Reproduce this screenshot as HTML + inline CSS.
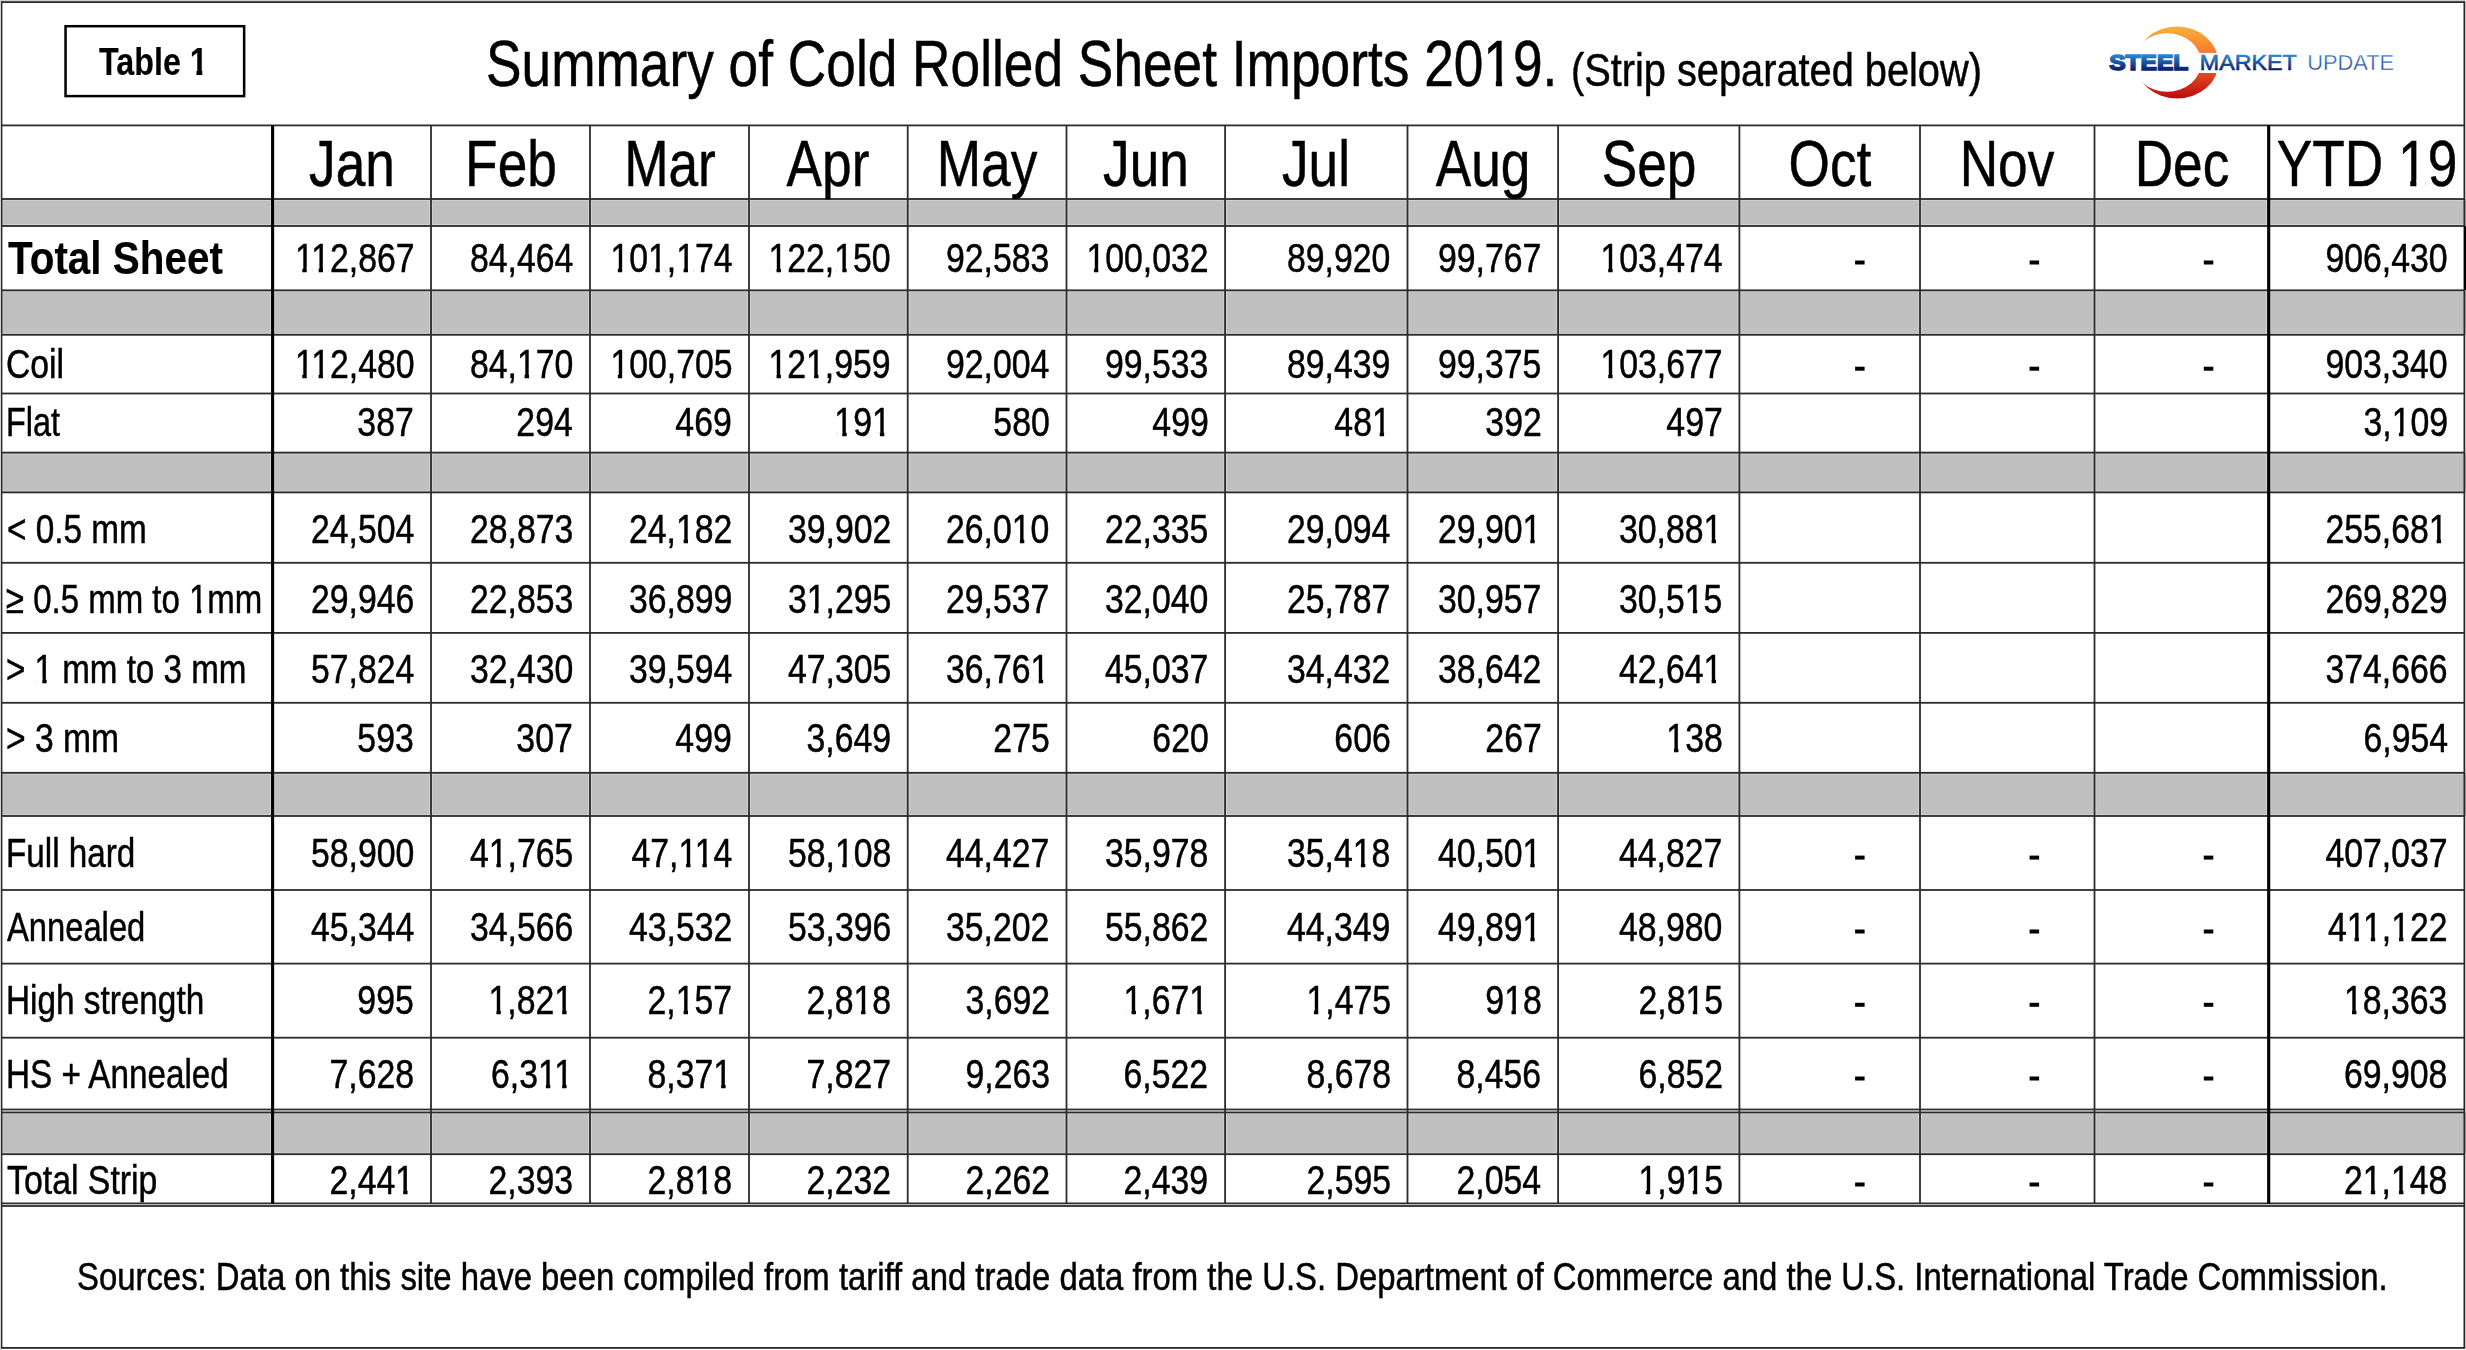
<!DOCTYPE html>
<html><head><meta charset="utf-8"><style>
html,body{margin:0;padding:0;}
body{width:2466px;height:1350px;position:relative;overflow:hidden;background:#fff;font-family:"Liberation Sans", sans-serif;color:#000}
.r{position:absolute}
.t{position:absolute;white-space:nowrap;line-height:1;-webkit-text-stroke:0.5px #000}
</style></head><body>
<svg style="position:absolute;left:0;top:0" width="2466" height="1350"><rect x="0.00" y="199.00" width="2466.00" height="27.00" fill="#c0c0c0"/><rect x="0.00" y="290.30" width="2466.00" height="44.50" fill="#c0c0c0"/><rect x="0.00" y="452.60" width="2466.00" height="39.80" fill="#c0c0c0"/><rect x="0.00" y="772.80" width="2466.00" height="43.20" fill="#c0c0c0"/><rect x="0.00" y="1112.40" width="2466.00" height="41.80" fill="#c0c0c0"/><rect x="0.00" y="199.90" width="2466.00" height="1.00" fill="#d2d2d2"/><rect x="0.00" y="224.10" width="2466.00" height="1.00" fill="#d2d2d2"/><rect x="270.05" y="199.00" width="1.00" height="27.00" fill="#d2d2d2"/><rect x="274.15" y="199.00" width="1.00" height="27.00" fill="#d2d2d2"/><rect x="429.10" y="199.00" width="1.00" height="27.00" fill="#d2d2d2"/><rect x="431.90" y="199.00" width="1.00" height="27.00" fill="#d2d2d2"/><rect x="588.10" y="199.00" width="1.00" height="27.00" fill="#d2d2d2"/><rect x="590.90" y="199.00" width="1.00" height="27.00" fill="#d2d2d2"/><rect x="747.10" y="199.00" width="1.00" height="27.00" fill="#d2d2d2"/><rect x="749.90" y="199.00" width="1.00" height="27.00" fill="#d2d2d2"/><rect x="905.80" y="199.00" width="1.00" height="27.00" fill="#d2d2d2"/><rect x="908.60" y="199.00" width="1.00" height="27.00" fill="#d2d2d2"/><rect x="1064.60" y="199.00" width="1.00" height="27.00" fill="#d2d2d2"/><rect x="1067.40" y="199.00" width="1.00" height="27.00" fill="#d2d2d2"/><rect x="1223.20" y="199.00" width="1.00" height="27.00" fill="#d2d2d2"/><rect x="1226.00" y="199.00" width="1.00" height="27.00" fill="#d2d2d2"/><rect x="1405.60" y="199.00" width="1.00" height="27.00" fill="#d2d2d2"/><rect x="1408.40" y="199.00" width="1.00" height="27.00" fill="#d2d2d2"/><rect x="1556.20" y="199.00" width="1.00" height="27.00" fill="#d2d2d2"/><rect x="1559.00" y="199.00" width="1.00" height="27.00" fill="#d2d2d2"/><rect x="1737.50" y="199.00" width="1.00" height="27.00" fill="#d2d2d2"/><rect x="1740.30" y="199.00" width="1.00" height="27.00" fill="#d2d2d2"/><rect x="1918.10" y="199.00" width="1.00" height="27.00" fill="#d2d2d2"/><rect x="1920.90" y="199.00" width="1.00" height="27.00" fill="#d2d2d2"/><rect x="2092.60" y="199.00" width="1.00" height="27.00" fill="#d2d2d2"/><rect x="2095.40" y="199.00" width="1.00" height="27.00" fill="#d2d2d2"/><rect x="2266.15" y="199.00" width="1.00" height="27.00" fill="#d2d2d2"/><rect x="2270.25" y="199.00" width="1.00" height="27.00" fill="#d2d2d2"/><rect x="0.00" y="291.20" width="2466.00" height="1.00" fill="#d2d2d2"/><rect x="0.00" y="332.90" width="2466.00" height="1.00" fill="#d2d2d2"/><rect x="270.05" y="290.30" width="1.00" height="44.50" fill="#d2d2d2"/><rect x="274.15" y="290.30" width="1.00" height="44.50" fill="#d2d2d2"/><rect x="429.10" y="290.30" width="1.00" height="44.50" fill="#d2d2d2"/><rect x="431.90" y="290.30" width="1.00" height="44.50" fill="#d2d2d2"/><rect x="588.10" y="290.30" width="1.00" height="44.50" fill="#d2d2d2"/><rect x="590.90" y="290.30" width="1.00" height="44.50" fill="#d2d2d2"/><rect x="747.10" y="290.30" width="1.00" height="44.50" fill="#d2d2d2"/><rect x="749.90" y="290.30" width="1.00" height="44.50" fill="#d2d2d2"/><rect x="905.80" y="290.30" width="1.00" height="44.50" fill="#d2d2d2"/><rect x="908.60" y="290.30" width="1.00" height="44.50" fill="#d2d2d2"/><rect x="1064.60" y="290.30" width="1.00" height="44.50" fill="#d2d2d2"/><rect x="1067.40" y="290.30" width="1.00" height="44.50" fill="#d2d2d2"/><rect x="1223.20" y="290.30" width="1.00" height="44.50" fill="#d2d2d2"/><rect x="1226.00" y="290.30" width="1.00" height="44.50" fill="#d2d2d2"/><rect x="1405.60" y="290.30" width="1.00" height="44.50" fill="#d2d2d2"/><rect x="1408.40" y="290.30" width="1.00" height="44.50" fill="#d2d2d2"/><rect x="1556.20" y="290.30" width="1.00" height="44.50" fill="#d2d2d2"/><rect x="1559.00" y="290.30" width="1.00" height="44.50" fill="#d2d2d2"/><rect x="1737.50" y="290.30" width="1.00" height="44.50" fill="#d2d2d2"/><rect x="1740.30" y="290.30" width="1.00" height="44.50" fill="#d2d2d2"/><rect x="1918.10" y="290.30" width="1.00" height="44.50" fill="#d2d2d2"/><rect x="1920.90" y="290.30" width="1.00" height="44.50" fill="#d2d2d2"/><rect x="2092.60" y="290.30" width="1.00" height="44.50" fill="#d2d2d2"/><rect x="2095.40" y="290.30" width="1.00" height="44.50" fill="#d2d2d2"/><rect x="2266.15" y="290.30" width="1.00" height="44.50" fill="#d2d2d2"/><rect x="2270.25" y="290.30" width="1.00" height="44.50" fill="#d2d2d2"/><rect x="0.00" y="453.50" width="2466.00" height="1.00" fill="#d2d2d2"/><rect x="0.00" y="490.50" width="2466.00" height="1.00" fill="#d2d2d2"/><rect x="270.05" y="452.60" width="1.00" height="39.80" fill="#d2d2d2"/><rect x="274.15" y="452.60" width="1.00" height="39.80" fill="#d2d2d2"/><rect x="429.10" y="452.60" width="1.00" height="39.80" fill="#d2d2d2"/><rect x="431.90" y="452.60" width="1.00" height="39.80" fill="#d2d2d2"/><rect x="588.10" y="452.60" width="1.00" height="39.80" fill="#d2d2d2"/><rect x="590.90" y="452.60" width="1.00" height="39.80" fill="#d2d2d2"/><rect x="747.10" y="452.60" width="1.00" height="39.80" fill="#d2d2d2"/><rect x="749.90" y="452.60" width="1.00" height="39.80" fill="#d2d2d2"/><rect x="905.80" y="452.60" width="1.00" height="39.80" fill="#d2d2d2"/><rect x="908.60" y="452.60" width="1.00" height="39.80" fill="#d2d2d2"/><rect x="1064.60" y="452.60" width="1.00" height="39.80" fill="#d2d2d2"/><rect x="1067.40" y="452.60" width="1.00" height="39.80" fill="#d2d2d2"/><rect x="1223.20" y="452.60" width="1.00" height="39.80" fill="#d2d2d2"/><rect x="1226.00" y="452.60" width="1.00" height="39.80" fill="#d2d2d2"/><rect x="1405.60" y="452.60" width="1.00" height="39.80" fill="#d2d2d2"/><rect x="1408.40" y="452.60" width="1.00" height="39.80" fill="#d2d2d2"/><rect x="1556.20" y="452.60" width="1.00" height="39.80" fill="#d2d2d2"/><rect x="1559.00" y="452.60" width="1.00" height="39.80" fill="#d2d2d2"/><rect x="1737.50" y="452.60" width="1.00" height="39.80" fill="#d2d2d2"/><rect x="1740.30" y="452.60" width="1.00" height="39.80" fill="#d2d2d2"/><rect x="1918.10" y="452.60" width="1.00" height="39.80" fill="#d2d2d2"/><rect x="1920.90" y="452.60" width="1.00" height="39.80" fill="#d2d2d2"/><rect x="2092.60" y="452.60" width="1.00" height="39.80" fill="#d2d2d2"/><rect x="2095.40" y="452.60" width="1.00" height="39.80" fill="#d2d2d2"/><rect x="2266.15" y="452.60" width="1.00" height="39.80" fill="#d2d2d2"/><rect x="2270.25" y="452.60" width="1.00" height="39.80" fill="#d2d2d2"/><rect x="0.00" y="773.70" width="2466.00" height="1.00" fill="#d2d2d2"/><rect x="0.00" y="814.10" width="2466.00" height="1.00" fill="#d2d2d2"/><rect x="270.05" y="772.80" width="1.00" height="43.20" fill="#d2d2d2"/><rect x="274.15" y="772.80" width="1.00" height="43.20" fill="#d2d2d2"/><rect x="429.10" y="772.80" width="1.00" height="43.20" fill="#d2d2d2"/><rect x="431.90" y="772.80" width="1.00" height="43.20" fill="#d2d2d2"/><rect x="588.10" y="772.80" width="1.00" height="43.20" fill="#d2d2d2"/><rect x="590.90" y="772.80" width="1.00" height="43.20" fill="#d2d2d2"/><rect x="747.10" y="772.80" width="1.00" height="43.20" fill="#d2d2d2"/><rect x="749.90" y="772.80" width="1.00" height="43.20" fill="#d2d2d2"/><rect x="905.80" y="772.80" width="1.00" height="43.20" fill="#d2d2d2"/><rect x="908.60" y="772.80" width="1.00" height="43.20" fill="#d2d2d2"/><rect x="1064.60" y="772.80" width="1.00" height="43.20" fill="#d2d2d2"/><rect x="1067.40" y="772.80" width="1.00" height="43.20" fill="#d2d2d2"/><rect x="1223.20" y="772.80" width="1.00" height="43.20" fill="#d2d2d2"/><rect x="1226.00" y="772.80" width="1.00" height="43.20" fill="#d2d2d2"/><rect x="1405.60" y="772.80" width="1.00" height="43.20" fill="#d2d2d2"/><rect x="1408.40" y="772.80" width="1.00" height="43.20" fill="#d2d2d2"/><rect x="1556.20" y="772.80" width="1.00" height="43.20" fill="#d2d2d2"/><rect x="1559.00" y="772.80" width="1.00" height="43.20" fill="#d2d2d2"/><rect x="1737.50" y="772.80" width="1.00" height="43.20" fill="#d2d2d2"/><rect x="1740.30" y="772.80" width="1.00" height="43.20" fill="#d2d2d2"/><rect x="1918.10" y="772.80" width="1.00" height="43.20" fill="#d2d2d2"/><rect x="1920.90" y="772.80" width="1.00" height="43.20" fill="#d2d2d2"/><rect x="2092.60" y="772.80" width="1.00" height="43.20" fill="#d2d2d2"/><rect x="2095.40" y="772.80" width="1.00" height="43.20" fill="#d2d2d2"/><rect x="2266.15" y="772.80" width="1.00" height="43.20" fill="#d2d2d2"/><rect x="2270.25" y="772.80" width="1.00" height="43.20" fill="#d2d2d2"/><rect x="0.00" y="1113.30" width="2466.00" height="1.00" fill="#d2d2d2"/><rect x="0.00" y="1152.30" width="2466.00" height="1.00" fill="#d2d2d2"/><rect x="270.05" y="1112.40" width="1.00" height="41.80" fill="#d2d2d2"/><rect x="274.15" y="1112.40" width="1.00" height="41.80" fill="#d2d2d2"/><rect x="429.10" y="1112.40" width="1.00" height="41.80" fill="#d2d2d2"/><rect x="431.90" y="1112.40" width="1.00" height="41.80" fill="#d2d2d2"/><rect x="588.10" y="1112.40" width="1.00" height="41.80" fill="#d2d2d2"/><rect x="590.90" y="1112.40" width="1.00" height="41.80" fill="#d2d2d2"/><rect x="747.10" y="1112.40" width="1.00" height="41.80" fill="#d2d2d2"/><rect x="749.90" y="1112.40" width="1.00" height="41.80" fill="#d2d2d2"/><rect x="905.80" y="1112.40" width="1.00" height="41.80" fill="#d2d2d2"/><rect x="908.60" y="1112.40" width="1.00" height="41.80" fill="#d2d2d2"/><rect x="1064.60" y="1112.40" width="1.00" height="41.80" fill="#d2d2d2"/><rect x="1067.40" y="1112.40" width="1.00" height="41.80" fill="#d2d2d2"/><rect x="1223.20" y="1112.40" width="1.00" height="41.80" fill="#d2d2d2"/><rect x="1226.00" y="1112.40" width="1.00" height="41.80" fill="#d2d2d2"/><rect x="1405.60" y="1112.40" width="1.00" height="41.80" fill="#d2d2d2"/><rect x="1408.40" y="1112.40" width="1.00" height="41.80" fill="#d2d2d2"/><rect x="1556.20" y="1112.40" width="1.00" height="41.80" fill="#d2d2d2"/><rect x="1559.00" y="1112.40" width="1.00" height="41.80" fill="#d2d2d2"/><rect x="1737.50" y="1112.40" width="1.00" height="41.80" fill="#d2d2d2"/><rect x="1740.30" y="1112.40" width="1.00" height="41.80" fill="#d2d2d2"/><rect x="1918.10" y="1112.40" width="1.00" height="41.80" fill="#d2d2d2"/><rect x="1920.90" y="1112.40" width="1.00" height="41.80" fill="#d2d2d2"/><rect x="2092.60" y="1112.40" width="1.00" height="41.80" fill="#d2d2d2"/><rect x="2095.40" y="1112.40" width="1.00" height="41.80" fill="#d2d2d2"/><rect x="2266.15" y="1112.40" width="1.00" height="41.80" fill="#d2d2d2"/><rect x="2270.25" y="1112.40" width="1.00" height="41.80" fill="#d2d2d2"/><rect x="1.50" y="124.50" width="2463.00" height="1.80" fill="#2c2c2c"/><rect x="1.50" y="198.10" width="2463.00" height="1.80" fill="#2c2c2c"/><rect x="1.50" y="225.10" width="2463.00" height="1.80" fill="#2c2c2c"/><rect x="1.50" y="289.40" width="2463.00" height="1.80" fill="#2c2c2c"/><rect x="1.50" y="333.90" width="2463.00" height="1.80" fill="#2c2c2c"/><rect x="1.50" y="392.60" width="2463.00" height="1.80" fill="#2c2c2c"/><rect x="1.50" y="451.70" width="2463.00" height="1.80" fill="#2c2c2c"/><rect x="1.50" y="491.50" width="2463.00" height="1.80" fill="#2c2c2c"/><rect x="1.50" y="561.90" width="2463.00" height="1.80" fill="#2c2c2c"/><rect x="1.50" y="632.00" width="2463.00" height="1.80" fill="#2c2c2c"/><rect x="1.50" y="701.90" width="2463.00" height="1.80" fill="#2c2c2c"/><rect x="1.50" y="771.90" width="2463.00" height="1.80" fill="#2c2c2c"/><rect x="1.50" y="815.10" width="2463.00" height="1.80" fill="#2c2c2c"/><rect x="1.50" y="889.10" width="2463.00" height="1.80" fill="#2c2c2c"/><rect x="1.50" y="962.70" width="2463.00" height="1.80" fill="#2c2c2c"/><rect x="1.50" y="1036.80" width="2463.00" height="1.80" fill="#2c2c2c"/><rect x="1.50" y="1108.60" width="2463.00" height="1.80" fill="#2c2c2c"/><rect x="1.50" y="1111.50" width="2463.00" height="1.80" fill="#2c2c2c"/><rect x="1.50" y="1153.30" width="2463.00" height="1.80" fill="#2c2c2c"/><rect x="1.50" y="1202.50" width="2463.00" height="1.80" fill="#2c2c2c"/><rect x="1.50" y="1205.10" width="2463.00" height="1.80" fill="#2c2c2c"/><rect x="271.05" y="125.40" width="3.10" height="1078.00" fill="#000"/><rect x="430.10" y="125.40" width="1.80" height="1078.00" fill="#2c2c2c"/><rect x="589.10" y="125.40" width="1.80" height="1078.00" fill="#2c2c2c"/><rect x="748.10" y="125.40" width="1.80" height="1078.00" fill="#2c2c2c"/><rect x="906.80" y="125.40" width="1.80" height="1078.00" fill="#2c2c2c"/><rect x="1065.60" y="125.40" width="1.80" height="1078.00" fill="#2c2c2c"/><rect x="1224.20" y="125.40" width="1.80" height="1078.00" fill="#2c2c2c"/><rect x="1406.60" y="125.40" width="1.80" height="1078.00" fill="#2c2c2c"/><rect x="1557.20" y="125.40" width="1.80" height="1078.00" fill="#2c2c2c"/><rect x="1738.50" y="125.40" width="1.80" height="1078.00" fill="#2c2c2c"/><rect x="1919.10" y="125.40" width="1.80" height="1078.00" fill="#2c2c2c"/><rect x="2093.60" y="125.40" width="1.80" height="1078.00" fill="#2c2c2c"/><rect x="2267.15" y="125.40" width="3.10" height="1078.00" fill="#000"/><rect x="1.50" y="1.20" width="2463.00" height="1.80" fill="#2a2a2a"/><rect x="1.50" y="1347.00" width="2463.00" height="1.80" fill="#2a2a2a"/><rect x="0.60" y="1.20" width="1.80" height="1347.50" fill="#2a2a2a"/><rect x="2463.50" y="1.20" width="1.80" height="1347.50" fill="#2a2a2a"/><rect x="0.00" y="0.00" width="2466.00" height="1.00" fill="#d0d0d0"/><rect x="0.00" y="0.00" width="1.00" height="1350.00" fill="#d0d0d0"/><rect x="2464.00" y="226.20" width="2.00" height="63.80" fill="#000"/><rect x="65.55" y="26.2" width="178.6" height="69.9" fill="none" stroke="#000" stroke-width="2.5"/><rect x="1855.10" y="260.50" width="9.50" height="4.00" fill="#000"/><rect x="2029.60" y="260.50" width="9.50" height="4.00" fill="#000"/><rect x="2203.80" y="260.50" width="9.50" height="4.00" fill="#000"/><rect x="1855.10" y="366.70" width="9.50" height="4.00" fill="#000"/><rect x="2029.60" y="366.70" width="9.50" height="4.00" fill="#000"/><rect x="2203.80" y="366.70" width="9.50" height="4.00" fill="#000"/><rect x="1855.10" y="855.60" width="9.50" height="4.00" fill="#000"/><rect x="2029.60" y="855.60" width="9.50" height="4.00" fill="#000"/><rect x="2203.80" y="855.60" width="9.50" height="4.00" fill="#000"/><rect x="1855.10" y="929.50" width="9.50" height="4.00" fill="#000"/><rect x="2029.60" y="929.50" width="9.50" height="4.00" fill="#000"/><rect x="2203.80" y="929.50" width="9.50" height="4.00" fill="#000"/><rect x="1855.10" y="1002.80" width="9.50" height="4.00" fill="#000"/><rect x="2029.60" y="1002.80" width="9.50" height="4.00" fill="#000"/><rect x="2203.80" y="1002.80" width="9.50" height="4.00" fill="#000"/><rect x="1855.10" y="1076.50" width="9.50" height="4.00" fill="#000"/><rect x="2029.60" y="1076.50" width="9.50" height="4.00" fill="#000"/><rect x="2203.80" y="1076.50" width="9.50" height="4.00" fill="#000"/><rect x="1855.10" y="1182.50" width="9.50" height="4.00" fill="#000"/><rect x="2029.60" y="1182.50" width="9.50" height="4.00" fill="#000"/><rect x="2203.80" y="1182.50" width="9.50" height="4.00" fill="#000"/></svg>
<div class="t" style="left:98.80px;transform-origin:0 0;top:42.00px;font-size:39.5px;transform:scaleX(0.817);font-weight:bold;-webkit-text-stroke:0.15px #000;">Table 1</div>
<div class="t" style="left:485.80px;transform-origin:0 0;top:31.80px;font-size:64px;transform:scaleX(0.832);">Summary of Cold Rolled Sheet Imports 2019.</div>
<div class="t" style="left:1570.50px;transform-origin:0 0;top:46.50px;font-size:46px;transform:scaleX(0.864);">(Strip separated below)</div>
<div class="t" style="left:-648.20px;width:2000px;text-align:center;transform-origin:50% 0;top:131.85px;font-size:64px;transform:scaleX(0.832);">Jan</div>
<div class="t" style="left:-489.50px;width:2000px;text-align:center;transform-origin:50% 0;top:131.85px;font-size:64px;transform:scaleX(0.832);">Feb</div>
<div class="t" style="left:-330.50px;width:2000px;text-align:center;transform-origin:50% 0;top:131.85px;font-size:64px;transform:scaleX(0.832);">Mar</div>
<div class="t" style="left:-171.65px;width:2000px;text-align:center;transform-origin:50% 0;top:131.85px;font-size:64px;transform:scaleX(0.832);">Apr</div>
<div class="t" style="left:-12.90px;width:2000px;text-align:center;transform-origin:50% 0;top:131.85px;font-size:64px;transform:scaleX(0.832);">May</div>
<div class="t" style="left:145.80px;width:2000px;text-align:center;transform-origin:50% 0;top:131.85px;font-size:64px;transform:scaleX(0.832);">Jun</div>
<div class="t" style="left:316.30px;width:2000px;text-align:center;transform-origin:50% 0;top:131.85px;font-size:64px;transform:scaleX(0.832);">Jul</div>
<div class="t" style="left:482.80px;width:2000px;text-align:center;transform-origin:50% 0;top:131.85px;font-size:64px;transform:scaleX(0.832);">Aug</div>
<div class="t" style="left:648.75px;width:2000px;text-align:center;transform-origin:50% 0;top:131.85px;font-size:64px;transform:scaleX(0.832);">Sep</div>
<div class="t" style="left:829.70px;width:2000px;text-align:center;transform-origin:50% 0;top:131.85px;font-size:64px;transform:scaleX(0.832);">Oct</div>
<div class="t" style="left:1007.25px;width:2000px;text-align:center;transform-origin:50% 0;top:131.85px;font-size:64px;transform:scaleX(0.832);">Nov</div>
<div class="t" style="left:1181.60px;width:2000px;text-align:center;transform-origin:50% 0;top:131.85px;font-size:64px;transform:scaleX(0.832);">Dec</div>
<div class="t" style="left:1366.55px;width:2000px;text-align:center;transform-origin:50% 0;top:131.85px;font-size:64px;transform:scaleX(0.832);">YTD 19</div>
<div class="t" style="left:7.50px;transform-origin:0 0;top:235.20px;font-size:46px;transform:scaleX(0.879);font-weight:bold;-webkit-text-stroke:0.15px #000;">Total Sheet</div>
<div class="t" style="right:2051.80px;transform-origin:100% 0;top:237.80px;font-size:40px;transform:scaleX(0.845);">112,867</div>
<div class="t" style="right:1892.80px;transform-origin:100% 0;top:237.80px;font-size:40px;transform:scaleX(0.845);">84,464</div>
<div class="t" style="right:1733.80px;transform-origin:100% 0;top:237.80px;font-size:40px;transform:scaleX(0.845);">101,174</div>
<div class="t" style="right:1575.10px;transform-origin:100% 0;top:237.80px;font-size:40px;transform:scaleX(0.845);">122,150</div>
<div class="t" style="right:1416.30px;transform-origin:100% 0;top:237.80px;font-size:40px;transform:scaleX(0.845);">92,583</div>
<div class="t" style="right:1257.70px;transform-origin:100% 0;top:237.80px;font-size:40px;transform:scaleX(0.845);">100,032</div>
<div class="t" style="right:1075.30px;transform-origin:100% 0;top:237.80px;font-size:40px;transform:scaleX(0.845);">89,920</div>
<div class="t" style="right:924.70px;transform-origin:100% 0;top:237.80px;font-size:40px;transform:scaleX(0.845);">99,767</div>
<div class="t" style="right:743.40px;transform-origin:100% 0;top:237.80px;font-size:40px;transform:scaleX(0.845);">103,474</div>
<div class="t" style="right:18.40px;transform-origin:100% 0;top:237.80px;font-size:40px;transform:scaleX(0.845);">906,430</div>
<div class="t" style="left:6.12px;transform-origin:0 0;top:344.00px;font-size:40px;transform:scaleX(0.8415);">Coil</div>
<div class="t" style="right:2051.80px;transform-origin:100% 0;top:344.00px;font-size:40px;transform:scaleX(0.845);">112,480</div>
<div class="t" style="right:1892.80px;transform-origin:100% 0;top:344.00px;font-size:40px;transform:scaleX(0.845);">84,170</div>
<div class="t" style="right:1733.80px;transform-origin:100% 0;top:344.00px;font-size:40px;transform:scaleX(0.845);">100,705</div>
<div class="t" style="right:1575.10px;transform-origin:100% 0;top:344.00px;font-size:40px;transform:scaleX(0.845);">121,959</div>
<div class="t" style="right:1416.30px;transform-origin:100% 0;top:344.00px;font-size:40px;transform:scaleX(0.845);">92,004</div>
<div class="t" style="right:1257.70px;transform-origin:100% 0;top:344.00px;font-size:40px;transform:scaleX(0.845);">99,533</div>
<div class="t" style="right:1075.30px;transform-origin:100% 0;top:344.00px;font-size:40px;transform:scaleX(0.845);">89,439</div>
<div class="t" style="right:924.70px;transform-origin:100% 0;top:344.00px;font-size:40px;transform:scaleX(0.845);">99,375</div>
<div class="t" style="right:743.40px;transform-origin:100% 0;top:344.00px;font-size:40px;transform:scaleX(0.845);">103,677</div>
<div class="t" style="right:18.40px;transform-origin:100% 0;top:344.00px;font-size:40px;transform:scaleX(0.845);">903,340</div>
<div class="t" style="left:6.47px;transform-origin:0 0;top:402.40px;font-size:40px;transform:scaleX(0.8109);">Flat</div>
<div class="t" style="right:2051.80px;transform-origin:100% 0;top:402.40px;font-size:40px;transform:scaleX(0.845);">387</div>
<div class="t" style="right:1892.80px;transform-origin:100% 0;top:402.40px;font-size:40px;transform:scaleX(0.845);">294</div>
<div class="t" style="right:1733.80px;transform-origin:100% 0;top:402.40px;font-size:40px;transform:scaleX(0.845);">469</div>
<div class="t" style="right:1575.10px;transform-origin:100% 0;top:402.40px;font-size:40px;transform:scaleX(0.845);">191</div>
<div class="t" style="right:1416.30px;transform-origin:100% 0;top:402.40px;font-size:40px;transform:scaleX(0.845);">580</div>
<div class="t" style="right:1257.70px;transform-origin:100% 0;top:402.40px;font-size:40px;transform:scaleX(0.845);">499</div>
<div class="t" style="right:1075.30px;transform-origin:100% 0;top:402.40px;font-size:40px;transform:scaleX(0.845);">481</div>
<div class="t" style="right:924.70px;transform-origin:100% 0;top:402.40px;font-size:40px;transform:scaleX(0.845);">392</div>
<div class="t" style="right:743.40px;transform-origin:100% 0;top:402.40px;font-size:40px;transform:scaleX(0.845);">497</div>
<div class="t" style="right:18.40px;transform-origin:100% 0;top:402.40px;font-size:40px;transform:scaleX(0.845);">3,109</div>
<div class="t" style="left:6.73px;transform-origin:0 0;top:508.90px;font-size:40px;transform:scaleX(0.8329);">&lt; 0.5 mm</div>
<div class="t" style="right:2051.80px;transform-origin:100% 0;top:508.90px;font-size:40px;transform:scaleX(0.845);">24,504</div>
<div class="t" style="right:1892.80px;transform-origin:100% 0;top:508.90px;font-size:40px;transform:scaleX(0.845);">28,873</div>
<div class="t" style="right:1733.80px;transform-origin:100% 0;top:508.90px;font-size:40px;transform:scaleX(0.845);">24,182</div>
<div class="t" style="right:1575.10px;transform-origin:100% 0;top:508.90px;font-size:40px;transform:scaleX(0.845);">39,902</div>
<div class="t" style="right:1416.30px;transform-origin:100% 0;top:508.90px;font-size:40px;transform:scaleX(0.845);">26,010</div>
<div class="t" style="right:1257.70px;transform-origin:100% 0;top:508.90px;font-size:40px;transform:scaleX(0.845);">22,335</div>
<div class="t" style="right:1075.30px;transform-origin:100% 0;top:508.90px;font-size:40px;transform:scaleX(0.845);">29,094</div>
<div class="t" style="right:924.70px;transform-origin:100% 0;top:508.90px;font-size:40px;transform:scaleX(0.845);">29,901</div>
<div class="t" style="right:743.40px;transform-origin:100% 0;top:508.90px;font-size:40px;transform:scaleX(0.845);">30,881</div>
<div class="t" style="right:18.40px;transform-origin:100% 0;top:508.90px;font-size:40px;transform:scaleX(0.845);">255,681</div>
<div class="t" style="left:6.38px;transform-origin:0 0;top:578.60px;font-size:40px;transform:scaleX(0.824);">&ge; 0.5 mm to 1mm</div>
<div class="t" style="right:2051.80px;transform-origin:100% 0;top:578.60px;font-size:40px;transform:scaleX(0.845);">29,946</div>
<div class="t" style="right:1892.80px;transform-origin:100% 0;top:578.60px;font-size:40px;transform:scaleX(0.845);">22,853</div>
<div class="t" style="right:1733.80px;transform-origin:100% 0;top:578.60px;font-size:40px;transform:scaleX(0.845);">36,899</div>
<div class="t" style="right:1575.10px;transform-origin:100% 0;top:578.60px;font-size:40px;transform:scaleX(0.845);">31,295</div>
<div class="t" style="right:1416.30px;transform-origin:100% 0;top:578.60px;font-size:40px;transform:scaleX(0.845);">29,537</div>
<div class="t" style="right:1257.70px;transform-origin:100% 0;top:578.60px;font-size:40px;transform:scaleX(0.845);">32,040</div>
<div class="t" style="right:1075.30px;transform-origin:100% 0;top:578.60px;font-size:40px;transform:scaleX(0.845);">25,787</div>
<div class="t" style="right:924.70px;transform-origin:100% 0;top:578.60px;font-size:40px;transform:scaleX(0.845);">30,957</div>
<div class="t" style="right:743.40px;transform-origin:100% 0;top:578.60px;font-size:40px;transform:scaleX(0.845);">30,515</div>
<div class="t" style="right:18.40px;transform-origin:100% 0;top:578.60px;font-size:40px;transform:scaleX(0.845);">269,829</div>
<div class="t" style="left:6.14px;transform-origin:0 0;top:648.70px;font-size:40px;transform:scaleX(0.8287);">&gt; 1 mm to 3 mm</div>
<div class="t" style="right:2051.80px;transform-origin:100% 0;top:648.70px;font-size:40px;transform:scaleX(0.845);">57,824</div>
<div class="t" style="right:1892.80px;transform-origin:100% 0;top:648.70px;font-size:40px;transform:scaleX(0.845);">32,430</div>
<div class="t" style="right:1733.80px;transform-origin:100% 0;top:648.70px;font-size:40px;transform:scaleX(0.845);">39,594</div>
<div class="t" style="right:1575.10px;transform-origin:100% 0;top:648.70px;font-size:40px;transform:scaleX(0.845);">47,305</div>
<div class="t" style="right:1416.30px;transform-origin:100% 0;top:648.70px;font-size:40px;transform:scaleX(0.845);">36,761</div>
<div class="t" style="right:1257.70px;transform-origin:100% 0;top:648.70px;font-size:40px;transform:scaleX(0.845);">45,037</div>
<div class="t" style="right:1075.30px;transform-origin:100% 0;top:648.70px;font-size:40px;transform:scaleX(0.845);">34,432</div>
<div class="t" style="right:924.70px;transform-origin:100% 0;top:648.70px;font-size:40px;transform:scaleX(0.845);">38,642</div>
<div class="t" style="right:743.40px;transform-origin:100% 0;top:648.70px;font-size:40px;transform:scaleX(0.845);">42,641</div>
<div class="t" style="right:18.40px;transform-origin:100% 0;top:648.70px;font-size:40px;transform:scaleX(0.845);">374,666</div>
<div class="t" style="left:6.12px;transform-origin:0 0;top:718.10px;font-size:40px;transform:scaleX(0.8408);">&gt; 3 mm</div>
<div class="t" style="right:2051.80px;transform-origin:100% 0;top:718.10px;font-size:40px;transform:scaleX(0.845);">593</div>
<div class="t" style="right:1892.80px;transform-origin:100% 0;top:718.10px;font-size:40px;transform:scaleX(0.845);">307</div>
<div class="t" style="right:1733.80px;transform-origin:100% 0;top:718.10px;font-size:40px;transform:scaleX(0.845);">499</div>
<div class="t" style="right:1575.10px;transform-origin:100% 0;top:718.10px;font-size:40px;transform:scaleX(0.845);">3,649</div>
<div class="t" style="right:1416.30px;transform-origin:100% 0;top:718.10px;font-size:40px;transform:scaleX(0.845);">275</div>
<div class="t" style="right:1257.70px;transform-origin:100% 0;top:718.10px;font-size:40px;transform:scaleX(0.845);">620</div>
<div class="t" style="right:1075.30px;transform-origin:100% 0;top:718.10px;font-size:40px;transform:scaleX(0.845);">606</div>
<div class="t" style="right:924.70px;transform-origin:100% 0;top:718.10px;font-size:40px;transform:scaleX(0.845);">267</div>
<div class="t" style="right:743.40px;transform-origin:100% 0;top:718.10px;font-size:40px;transform:scaleX(0.845);">138</div>
<div class="t" style="right:18.40px;transform-origin:100% 0;top:718.10px;font-size:40px;transform:scaleX(0.845);">6,954</div>
<div class="t" style="left:6.41px;transform-origin:0 0;top:832.90px;font-size:40px;transform:scaleX(0.8311);">Full hard</div>
<div class="t" style="right:2051.80px;transform-origin:100% 0;top:832.90px;font-size:40px;transform:scaleX(0.845);">58,900</div>
<div class="t" style="right:1892.80px;transform-origin:100% 0;top:832.90px;font-size:40px;transform:scaleX(0.845);">41,765</div>
<div class="t" style="right:1733.80px;transform-origin:100% 0;top:832.90px;font-size:40px;transform:scaleX(0.845);">47,114</div>
<div class="t" style="right:1575.10px;transform-origin:100% 0;top:832.90px;font-size:40px;transform:scaleX(0.845);">58,108</div>
<div class="t" style="right:1416.30px;transform-origin:100% 0;top:832.90px;font-size:40px;transform:scaleX(0.845);">44,427</div>
<div class="t" style="right:1257.70px;transform-origin:100% 0;top:832.90px;font-size:40px;transform:scaleX(0.845);">35,978</div>
<div class="t" style="right:1075.30px;transform-origin:100% 0;top:832.90px;font-size:40px;transform:scaleX(0.845);">35,418</div>
<div class="t" style="right:924.70px;transform-origin:100% 0;top:832.90px;font-size:40px;transform:scaleX(0.845);">40,501</div>
<div class="t" style="right:743.40px;transform-origin:100% 0;top:832.90px;font-size:40px;transform:scaleX(0.845);">44,827</div>
<div class="t" style="right:18.40px;transform-origin:100% 0;top:832.90px;font-size:40px;transform:scaleX(0.845);">407,037</div>
<div class="t" style="left:6.70px;transform-origin:0 0;top:906.80px;font-size:40px;transform:scaleX(0.818);">Annealed</div>
<div class="t" style="right:2051.80px;transform-origin:100% 0;top:906.80px;font-size:40px;transform:scaleX(0.845);">45,344</div>
<div class="t" style="right:1892.80px;transform-origin:100% 0;top:906.80px;font-size:40px;transform:scaleX(0.845);">34,566</div>
<div class="t" style="right:1733.80px;transform-origin:100% 0;top:906.80px;font-size:40px;transform:scaleX(0.845);">43,532</div>
<div class="t" style="right:1575.10px;transform-origin:100% 0;top:906.80px;font-size:40px;transform:scaleX(0.845);">53,396</div>
<div class="t" style="right:1416.30px;transform-origin:100% 0;top:906.80px;font-size:40px;transform:scaleX(0.845);">35,202</div>
<div class="t" style="right:1257.70px;transform-origin:100% 0;top:906.80px;font-size:40px;transform:scaleX(0.845);">55,862</div>
<div class="t" style="right:1075.30px;transform-origin:100% 0;top:906.80px;font-size:40px;transform:scaleX(0.845);">44,349</div>
<div class="t" style="right:924.70px;transform-origin:100% 0;top:906.80px;font-size:40px;transform:scaleX(0.845);">49,891</div>
<div class="t" style="right:743.40px;transform-origin:100% 0;top:906.80px;font-size:40px;transform:scaleX(0.845);">48,980</div>
<div class="t" style="right:18.40px;transform-origin:100% 0;top:906.80px;font-size:40px;transform:scaleX(0.845);">411,122</div>
<div class="t" style="left:6.40px;transform-origin:0 0;top:980.10px;font-size:40px;transform:scaleX(0.833);">High strength</div>
<div class="t" style="right:2051.80px;transform-origin:100% 0;top:980.10px;font-size:40px;transform:scaleX(0.845);">995</div>
<div class="t" style="right:1892.80px;transform-origin:100% 0;top:980.10px;font-size:40px;transform:scaleX(0.845);">1,821</div>
<div class="t" style="right:1733.80px;transform-origin:100% 0;top:980.10px;font-size:40px;transform:scaleX(0.845);">2,157</div>
<div class="t" style="right:1575.10px;transform-origin:100% 0;top:980.10px;font-size:40px;transform:scaleX(0.845);">2,818</div>
<div class="t" style="right:1416.30px;transform-origin:100% 0;top:980.10px;font-size:40px;transform:scaleX(0.845);">3,692</div>
<div class="t" style="right:1257.70px;transform-origin:100% 0;top:980.10px;font-size:40px;transform:scaleX(0.845);">1,671</div>
<div class="t" style="right:1075.30px;transform-origin:100% 0;top:980.10px;font-size:40px;transform:scaleX(0.845);">1,475</div>
<div class="t" style="right:924.70px;transform-origin:100% 0;top:980.10px;font-size:40px;transform:scaleX(0.845);">918</div>
<div class="t" style="right:743.40px;transform-origin:100% 0;top:980.10px;font-size:40px;transform:scaleX(0.845);">2,815</div>
<div class="t" style="right:18.40px;transform-origin:100% 0;top:980.10px;font-size:40px;transform:scaleX(0.845);">18,363</div>
<div class="t" style="left:6.41px;transform-origin:0 0;top:1053.80px;font-size:40px;transform:scaleX(0.8312);">HS + Annealed</div>
<div class="t" style="right:2051.80px;transform-origin:100% 0;top:1053.80px;font-size:40px;transform:scaleX(0.845);">7,628</div>
<div class="t" style="right:1892.80px;transform-origin:100% 0;top:1053.80px;font-size:40px;transform:scaleX(0.845);">6,311</div>
<div class="t" style="right:1733.80px;transform-origin:100% 0;top:1053.80px;font-size:40px;transform:scaleX(0.845);">8,371</div>
<div class="t" style="right:1575.10px;transform-origin:100% 0;top:1053.80px;font-size:40px;transform:scaleX(0.845);">7,827</div>
<div class="t" style="right:1416.30px;transform-origin:100% 0;top:1053.80px;font-size:40px;transform:scaleX(0.845);">9,263</div>
<div class="t" style="right:1257.70px;transform-origin:100% 0;top:1053.80px;font-size:40px;transform:scaleX(0.845);">6,522</div>
<div class="t" style="right:1075.30px;transform-origin:100% 0;top:1053.80px;font-size:40px;transform:scaleX(0.845);">8,678</div>
<div class="t" style="right:924.70px;transform-origin:100% 0;top:1053.80px;font-size:40px;transform:scaleX(0.845);">8,456</div>
<div class="t" style="right:743.40px;transform-origin:100% 0;top:1053.80px;font-size:40px;transform:scaleX(0.845);">6,852</div>
<div class="t" style="right:18.40px;transform-origin:100% 0;top:1053.80px;font-size:40px;transform:scaleX(0.845);">69,908</div>
<div class="t" style="left:7.15px;transform-origin:0 0;top:1159.80px;font-size:40px;transform:scaleX(0.8457);">Total Strip</div>
<div class="t" style="right:2051.80px;transform-origin:100% 0;top:1159.80px;font-size:40px;transform:scaleX(0.845);">2,441</div>
<div class="t" style="right:1892.80px;transform-origin:100% 0;top:1159.80px;font-size:40px;transform:scaleX(0.845);">2,393</div>
<div class="t" style="right:1733.80px;transform-origin:100% 0;top:1159.80px;font-size:40px;transform:scaleX(0.845);">2,818</div>
<div class="t" style="right:1575.10px;transform-origin:100% 0;top:1159.80px;font-size:40px;transform:scaleX(0.845);">2,232</div>
<div class="t" style="right:1416.30px;transform-origin:100% 0;top:1159.80px;font-size:40px;transform:scaleX(0.845);">2,262</div>
<div class="t" style="right:1257.70px;transform-origin:100% 0;top:1159.80px;font-size:40px;transform:scaleX(0.845);">2,439</div>
<div class="t" style="right:1075.30px;transform-origin:100% 0;top:1159.80px;font-size:40px;transform:scaleX(0.845);">2,595</div>
<div class="t" style="right:924.70px;transform-origin:100% 0;top:1159.80px;font-size:40px;transform:scaleX(0.845);">2,054</div>
<div class="t" style="right:743.40px;transform-origin:100% 0;top:1159.80px;font-size:40px;transform:scaleX(0.845);">1,915</div>
<div class="t" style="right:18.40px;transform-origin:100% 0;top:1159.80px;font-size:40px;transform:scaleX(0.845);">21,148</div>
<div class="t" style="left:77.30px;transform-origin:0 0;top:1257.70px;font-size:38px;transform:scaleX(0.865);">Sources: Data on this site have been compiled from tariff and trade data from the U.S. Department of Commerce and the U.S. International Trade Commission.</div>
<svg style="position:absolute;left:0;top:0" width="2466" height="1350"><rect x="190.78" y="70.31" width="5.70" height="6.63" fill="#fff"/><rect x="202.31" y="70.31" width="5.29" height="6.63" fill="#fff"/><rect x="1486.31" y="80.09" width="9.53" height="7.38" fill="#fff"/><rect x="1501.95" y="80.09" width="9.12" height="7.38" fill="#fff"/><rect x="2400.73" y="180.14" width="9.53" height="7.38" fill="#fff"/><rect x="2416.37" y="180.14" width="9.12" height="7.38" fill="#fff"/><rect x="296.20" y="267.57" width="6.12" height="5.59" fill="#fff"/><rect x="306.72" y="267.57" width="5.86" height="5.59" fill="#fff"/><rect x="312.48" y="267.57" width="6.12" height="5.59" fill="#fff"/><rect x="323.00" y="267.57" width="5.86" height="5.59" fill="#fff"/><rect x="611.70" y="267.57" width="6.12" height="5.59" fill="#fff"/><rect x="622.21" y="267.57" width="5.86" height="5.59" fill="#fff"/><rect x="649.29" y="267.57" width="6.12" height="5.59" fill="#fff"/><rect x="659.80" y="267.57" width="5.86" height="5.59" fill="#fff"/><rect x="677.47" y="267.57" width="6.12" height="5.59" fill="#fff"/><rect x="687.99" y="267.57" width="5.86" height="5.59" fill="#fff"/><rect x="770.40" y="267.57" width="6.12" height="5.59" fill="#fff"/><rect x="780.91" y="267.57" width="5.86" height="5.59" fill="#fff"/><rect x="836.18" y="267.57" width="6.12" height="5.59" fill="#fff"/><rect x="846.69" y="267.57" width="5.86" height="5.59" fill="#fff"/><rect x="1087.81" y="267.57" width="6.12" height="5.59" fill="#fff"/><rect x="1098.32" y="267.57" width="5.86" height="5.59" fill="#fff"/><rect x="1602.10" y="267.57" width="6.12" height="5.59" fill="#fff"/><rect x="1612.61" y="267.57" width="5.86" height="5.59" fill="#fff"/><rect x="296.20" y="373.77" width="6.12" height="5.59" fill="#fff"/><rect x="306.72" y="373.77" width="5.86" height="5.59" fill="#fff"/><rect x="312.48" y="373.77" width="6.12" height="5.59" fill="#fff"/><rect x="323.00" y="373.77" width="5.86" height="5.59" fill="#fff"/><rect x="518.47" y="373.77" width="6.12" height="5.59" fill="#fff"/><rect x="528.99" y="373.77" width="5.86" height="5.59" fill="#fff"/><rect x="611.70" y="373.77" width="6.12" height="5.59" fill="#fff"/><rect x="622.21" y="373.77" width="5.86" height="5.59" fill="#fff"/><rect x="770.40" y="373.77" width="6.12" height="5.59" fill="#fff"/><rect x="780.91" y="373.77" width="5.86" height="5.59" fill="#fff"/><rect x="807.99" y="373.77" width="6.12" height="5.59" fill="#fff"/><rect x="818.50" y="373.77" width="5.86" height="5.59" fill="#fff"/><rect x="1602.10" y="373.77" width="6.12" height="5.59" fill="#fff"/><rect x="1612.61" y="373.77" width="5.86" height="5.59" fill="#fff"/><rect x="836.18" y="432.16" width="6.12" height="5.59" fill="#fff"/><rect x="846.69" y="432.16" width="5.86" height="5.59" fill="#fff"/><rect x="873.77" y="432.16" width="6.12" height="5.59" fill="#fff"/><rect x="884.28" y="432.16" width="5.86" height="5.59" fill="#fff"/><rect x="1373.56" y="432.16" width="6.12" height="5.59" fill="#fff"/><rect x="1384.08" y="432.16" width="5.86" height="5.59" fill="#fff"/><rect x="2392.88" y="432.16" width="6.12" height="5.59" fill="#fff"/><rect x="2403.39" y="432.16" width="5.86" height="5.59" fill="#fff"/><rect x="677.47" y="538.66" width="6.12" height="5.59" fill="#fff"/><rect x="687.99" y="538.66" width="5.86" height="5.59" fill="#fff"/><rect x="1013.78" y="538.66" width="6.12" height="5.59" fill="#fff"/><rect x="1024.29" y="538.66" width="5.86" height="5.59" fill="#fff"/><rect x="1524.19" y="538.66" width="6.12" height="5.59" fill="#fff"/><rect x="1534.70" y="538.66" width="5.86" height="5.59" fill="#fff"/><rect x="1705.48" y="538.66" width="6.12" height="5.59" fill="#fff"/><rect x="1715.99" y="538.66" width="5.86" height="5.59" fill="#fff"/><rect x="2430.48" y="538.66" width="6.12" height="5.59" fill="#fff"/><rect x="2440.99" y="538.66" width="5.86" height="5.59" fill="#fff"/><rect x="190.91" y="608.37" width="5.98" height="5.59" fill="#fff"/><rect x="201.20" y="608.37" width="5.72" height="5.59" fill="#fff"/><rect x="807.99" y="608.37" width="6.12" height="5.59" fill="#fff"/><rect x="818.50" y="608.37" width="5.86" height="5.59" fill="#fff"/><rect x="1686.68" y="608.37" width="6.12" height="5.59" fill="#fff"/><rect x="1697.19" y="608.37" width="5.86" height="5.59" fill="#fff"/><rect x="36.31" y="678.46" width="6.01" height="5.59" fill="#fff"/><rect x="46.65" y="678.46" width="5.75" height="5.59" fill="#fff"/><rect x="1032.58" y="678.46" width="6.12" height="5.59" fill="#fff"/><rect x="1043.09" y="678.46" width="5.86" height="5.59" fill="#fff"/><rect x="1705.48" y="678.46" width="6.12" height="5.59" fill="#fff"/><rect x="1715.99" y="678.46" width="5.86" height="5.59" fill="#fff"/><rect x="1667.88" y="747.87" width="6.12" height="5.59" fill="#fff"/><rect x="1678.39" y="747.87" width="5.86" height="5.59" fill="#fff"/><rect x="490.29" y="862.66" width="6.12" height="5.59" fill="#fff"/><rect x="500.80" y="862.66" width="5.86" height="5.59" fill="#fff"/><rect x="679.98" y="862.66" width="6.12" height="5.59" fill="#fff"/><rect x="690.49" y="862.66" width="5.86" height="5.59" fill="#fff"/><rect x="696.28" y="862.66" width="6.12" height="5.59" fill="#fff"/><rect x="706.79" y="862.66" width="5.86" height="5.59" fill="#fff"/><rect x="836.18" y="862.66" width="6.12" height="5.59" fill="#fff"/><rect x="846.69" y="862.66" width="5.86" height="5.59" fill="#fff"/><rect x="1354.78" y="862.66" width="6.12" height="5.59" fill="#fff"/><rect x="1365.29" y="862.66" width="5.86" height="5.59" fill="#fff"/><rect x="1524.19" y="862.66" width="6.12" height="5.59" fill="#fff"/><rect x="1534.70" y="862.66" width="5.86" height="5.59" fill="#fff"/><rect x="1524.19" y="936.57" width="6.12" height="5.59" fill="#fff"/><rect x="1534.70" y="936.57" width="5.86" height="5.59" fill="#fff"/><rect x="2348.40" y="936.57" width="6.12" height="5.59" fill="#fff"/><rect x="2358.91" y="936.57" width="5.86" height="5.59" fill="#fff"/><rect x="2364.69" y="936.57" width="6.12" height="5.59" fill="#fff"/><rect x="2375.20" y="936.57" width="5.86" height="5.59" fill="#fff"/><rect x="2392.88" y="936.57" width="6.12" height="5.59" fill="#fff"/><rect x="2403.39" y="936.57" width="5.86" height="5.59" fill="#fff"/><rect x="490.29" y="1009.87" width="6.12" height="5.59" fill="#fff"/><rect x="500.80" y="1009.87" width="5.86" height="5.59" fill="#fff"/><rect x="556.06" y="1009.87" width="6.12" height="5.59" fill="#fff"/><rect x="566.58" y="1009.87" width="5.86" height="5.59" fill="#fff"/><rect x="677.47" y="1009.87" width="6.12" height="5.59" fill="#fff"/><rect x="687.99" y="1009.87" width="5.86" height="5.59" fill="#fff"/><rect x="854.97" y="1009.87" width="6.12" height="5.59" fill="#fff"/><rect x="865.48" y="1009.87" width="5.86" height="5.59" fill="#fff"/><rect x="1125.39" y="1009.87" width="6.12" height="5.59" fill="#fff"/><rect x="1135.91" y="1009.87" width="5.86" height="5.59" fill="#fff"/><rect x="1191.17" y="1009.87" width="6.12" height="5.59" fill="#fff"/><rect x="1201.68" y="1009.87" width="5.86" height="5.59" fill="#fff"/><rect x="1307.79" y="1009.87" width="6.12" height="5.59" fill="#fff"/><rect x="1318.30" y="1009.87" width="5.86" height="5.59" fill="#fff"/><rect x="1505.37" y="1009.87" width="6.12" height="5.59" fill="#fff"/><rect x="1515.88" y="1009.87" width="5.86" height="5.59" fill="#fff"/><rect x="1686.67" y="1009.87" width="6.12" height="5.59" fill="#fff"/><rect x="1697.18" y="1009.87" width="5.86" height="5.59" fill="#fff"/><rect x="2345.90" y="1009.87" width="6.12" height="5.59" fill="#fff"/><rect x="2356.42" y="1009.87" width="5.86" height="5.59" fill="#fff"/><rect x="539.77" y="1083.57" width="6.12" height="5.59" fill="#fff"/><rect x="550.28" y="1083.57" width="5.86" height="5.59" fill="#fff"/><rect x="556.06" y="1083.57" width="6.12" height="5.59" fill="#fff"/><rect x="566.58" y="1083.57" width="5.86" height="5.59" fill="#fff"/><rect x="715.06" y="1083.57" width="6.12" height="5.59" fill="#fff"/><rect x="725.58" y="1083.57" width="5.86" height="5.59" fill="#fff"/><rect x="397.06" y="1189.57" width="6.12" height="5.59" fill="#fff"/><rect x="407.58" y="1189.57" width="5.86" height="5.59" fill="#fff"/><rect x="696.26" y="1189.57" width="6.12" height="5.59" fill="#fff"/><rect x="706.77" y="1189.57" width="5.86" height="5.59" fill="#fff"/><rect x="1639.69" y="1189.57" width="6.12" height="5.59" fill="#fff"/><rect x="1650.20" y="1189.57" width="5.86" height="5.59" fill="#fff"/><rect x="1686.67" y="1189.57" width="6.12" height="5.59" fill="#fff"/><rect x="1697.18" y="1189.57" width="5.86" height="5.59" fill="#fff"/><rect x="2364.69" y="1189.57" width="6.12" height="5.59" fill="#fff"/><rect x="2375.20" y="1189.57" width="5.86" height="5.59" fill="#fff"/><rect x="2392.88" y="1189.57" width="6.12" height="5.59" fill="#fff"/><rect x="2403.39" y="1189.57" width="5.86" height="5.59" fill="#fff"/></svg>
<svg style="position:absolute;left:2100px;top:15px" width="320" height="95" viewBox="2100 15 320 95">
<defs>
<linearGradient id="og" x1="0" y1="26" x2="0" y2="99" gradientUnits="userSpaceOnUse">
<stop offset="0" stop-color="#fbb03b"/><stop offset="0.5" stop-color="#f2662a"/><stop offset="1" stop-color="#b90a0f"/>
</linearGradient>
<linearGradient id="bg" x1="0" y1="55" x2="0" y2="70" gradientUnits="userSpaceOnUse">
<stop offset="0" stop-color="#2b86d2"/><stop offset="1" stop-color="#0a1f6c"/>
</linearGradient>
<linearGradient id="ug" x1="0" y1="55" x2="0" y2="70" gradientUnits="userSpaceOnUse">
<stop offset="0" stop-color="#2f78c4"/><stop offset="1" stop-color="#223f94"/>
</linearGradient>
<mask id="cm" maskUnits="userSpaceOnUse" x="2100" y="15" width="320" height="95">
<rect x="2100" y="15" width="320" height="95" fill="#fff"/>
<ellipse cx="2167.1" cy="62.5" rx="34" ry="29.3" fill="#000"/>
<rect x="2185" y="52.9" width="60" height="20.1" fill="#000"/>
</mask>
</defs>
<ellipse cx="2177" cy="62.6" rx="41.4" ry="36" fill="url(#og)" mask="url(#cm)"/>
<text x="2109.2" y="69.9" font-family="Liberation Sans" font-weight="bold" font-size="21.2" fill="url(#bg)" stroke="url(#bg)" stroke-width="1.5" textLength="79.2" lengthAdjust="spacingAndGlyphs">STEEL</text>
<text x="2199.8" y="69.9" font-family="Liberation Sans" font-size="21.2" fill="url(#bg)" stroke="url(#bg)" stroke-width="0.6" textLength="96.8" lengthAdjust="spacingAndGlyphs">MARKET</text>
<text x="2307.2" y="69.9" font-family="Liberation Sans" font-size="21.2" fill="url(#ug)" stroke="#fff" stroke-width="0.35" textLength="87" lengthAdjust="spacingAndGlyphs">UPDATE</text>
</svg>

</body></html>
